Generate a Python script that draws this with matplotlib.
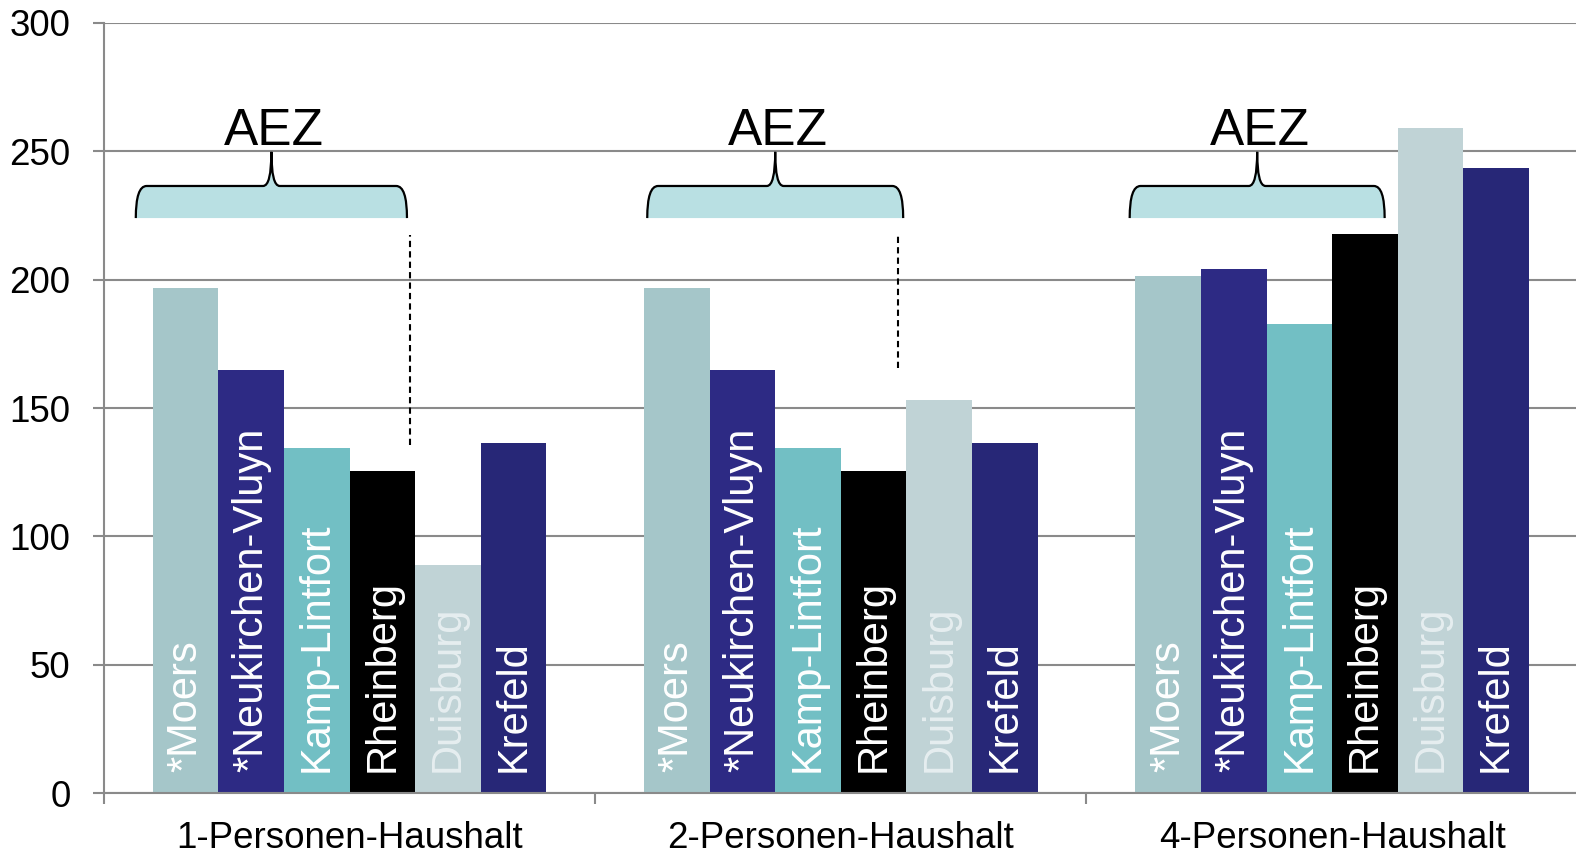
import numpy as np
import matplotlib.pyplot as plt
from matplotlib.path import Path
from matplotlib.patches import PathPatch

plt.rcParams['font.family'] = ['Liberation Sans', 'DejaVu Sans']

# ------------------------------------------------------------
# Daten
# ------------------------------------------------------------
haushalte = ["1-Personen-Haushalt", "2-Personen-Haushalt", "4-Personen-Haushalt"]
staedte = ["*Moers", "*Neukirchen-Vluyn", "Kamp-Lintfort", "Rheinberg", "Duisburg", "Krefeld"]

moers = [196.8, 196.8, 201.6]
neukirchen = [164.8, 164.8, 204.3]
kamp_lintfort = [134.6, 134.6, 182.7]
rheinberg = [125.6, 125.6, 217.8]
duisburg = [88.7, 153.0, 259.0]
krefeld = [136.5, 136.5, 243.5]
werte = [moers, neukirchen, kamp_lintfort, rheinberg, duisburg, krefeld]

farben = ["#A5C6C9", "#2D2A84", "#72BFC4", "#000000", "#C0D3D6", "#272777"]
textfarben = ["#FFFFFF", "#FFFFFF", "#FFFFFF", "#FFFFFF", "#E6EEF0", "#FFFFFF"]

# AEZ-Klammern (relativ zur Gruppenmitte)
klammer_links = [-0.435, -0.394, -0.412]
klammer_rechts = [0.117, 0.127, 0.107]
klammer_unten, klammer_oben, klammer_spitze = 224.0, 236.5, 249.8

# gestrichelte Linien (x relativ zur Gruppe, y von/bis)
strich_x = [0.123, 0.117]
strich_oben = [217.5, 217.5]
strich_unten = [135.6, 165.6]

# ------------------------------------------------------------
# Plot
# ------------------------------------------------------------
fig = plt.figure(figsize=(15.76, 8.55), dpi=100)
ax = fig.add_axes([0.0659, 0.0725, 0.9352, 0.9006])

x = np.arange(len(haushalte))
breite = 0.1335
for k, (name, vals) in enumerate(zip(staedte, werte)):
    pos = x + (k - 2.5) * breite
    ax.bar(pos, vals, width=breite, color=farben[k], zorder=2)
    for p in pos:
        ax.text(p, 8, name, rotation=90, ha='center', va='bottom',
                color=textfarben[k], fontsize=30, zorder=3)

# Klammern mit AEZ
gw = 0.022
sw = 0.017
for g, (l, r) in enumerate(zip(klammer_links, klammer_rechts)):
    x0, x1 = g + l, g + r
    xm = (x0 + x1) / 2
    verts = [(x0, klammer_unten),
             (x0, klammer_oben), (x0 + gw, klammer_oben),
             (xm - sw, klammer_oben),
             (xm, klammer_oben), (xm, klammer_spitze),
             (xm, klammer_oben), (xm + sw, klammer_oben),
             (x1 - gw, klammer_oben),
             (x1, klammer_oben), (x1, klammer_unten)]
    codes = [Path.MOVETO, Path.CURVE3, Path.CURVE3, Path.LINETO,
             Path.CURVE3, Path.CURVE3, Path.CURVE3, Path.CURVE3,
             Path.LINETO, Path.CURVE3, Path.CURVE3]
    ax.add_patch(PathPatch(Path(verts + [(x0, klammer_unten)], codes + [Path.CLOSEPOLY]),
                           facecolor="#B9E0E3", edgecolor='none', zorder=4))
    ax.add_patch(PathPatch(Path(verts, codes), facecolor='none',
                           edgecolor='black', lw=1.6, zorder=5))
    ax.text(xm + 0.005, 252.5, "AEZ", ha='center', va='baseline', fontsize=37, zorder=5)

for g in range(len(strich_x)):
    ax.plot([g + strich_x[g]] * 2, [strich_unten[g], strich_oben[g]],
            color='black', lw=1.5, ls=(0, (3, 2)), zorder=5)

# Achsen
ax.set_xlim(-0.5, 2.5)
ax.set_ylim(0, 300)
ax.set_yticks(np.arange(0, 301, 50))
ax.yaxis.grid(True, color='#8A8A8A', lw=1.5, zorder=0)
ax.set_axisbelow(True)
ax.set_xticks(x)
ax.set_xticklabels(haushalte)
ax.set_xticks([-0.5, 0.5, 1.5, 2.5], minor=True)
ax.tick_params(axis='x', which='major', length=0, pad=20, labelsize=26.5)
ax.tick_params(axis='x', which='minor', length=8, width=1.5, color='#8A8A8A')
ax.tick_params(axis='y', length=8, width=1.5, color='#8A8A8A', pad=16, labelsize=26.5)
for s in ['top', 'right']:
    ax.spines[s].set_visible(False)
for s in ['left', 'bottom']:
    ax.spines[s].set_color('#8A8A8A')
    ax.spines[s].set_linewidth(1.5)

fig.savefig("out.png", dpi=100)
